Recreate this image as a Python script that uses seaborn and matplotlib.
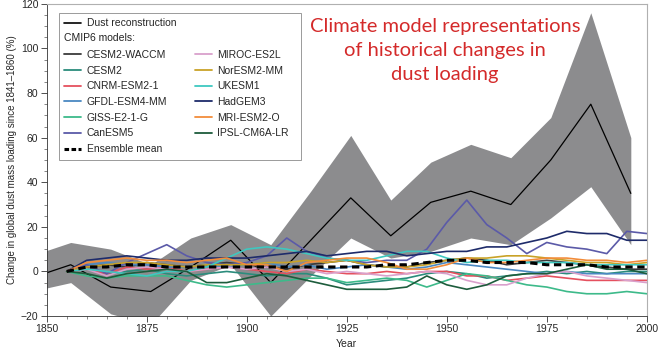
import matplotlib
matplotlib.use("Agg")
import matplotlib.pyplot as plt
import matplotlib.text as mtext
from matplotlib.legend_handler import HandlerBase
from matplotlib.lines import Line2D
from matplotlib.ticker import MultipleLocator
import pandas as pd
import seaborn as sns

# Dust reconstruction (decadal points) with its uncertainty band
recon_years = [1846, 1856, 1866, 1876, 1886, 1896, 1906, 1916, 1926, 1936, 1946, 1956, 1966, 1976, 1986, 1996]
recon_value = [-3, 3, -7, -9, 2, 14, -5, 14, 33, 16, 31, 36, 30, 50, 75, 35]
recon_upper = [7, 13, 10, 3, 15, 21, 12, 36, 61, 32, 49, 57, 51, 69, 116, 60]
recon_lower = [-9, -5, -19, -24, -4, 3, -20, -2, 15, 6, 9, 15, 12, 24, 38, 12]

# CMIP6 model curves, read every 5 years
model_years = [1855, 1860, 1865, 1870, 1875, 1880, 1885, 1890, 1895, 1900,
               1905, 1910, 1915, 1920, 1925, 1930, 1935, 1940, 1945, 1950,
               1955, 1960, 1965, 1970, 1975, 1980, 1985, 1990, 1995, 2000]

cesm2_waccm = [0, 2, 3, 2, 4, 3, 2, 3, 4, 3, 2, 1, 3, 4, 5, 3, 2, 2, 4, 5, 6, 5, 3, 4, 5, 4, 3, 2, 1, 1]
cesm2 = [0, 1, -1, 0, 1, -1, -2, -1, 0, -1, -2, -1, -1, -3, -6, -5, -4, -3, -1, 0, -1, -3, -2, -1, 0, -1, 0, -1, 0, 0]
cnrm_esm2_1 = [0, 1, -1, 2, 1, 2, 0, 1, 2, 1, 0, -1, 1, 0, -1, -1, 0, -1, 0, 0, -2, -2, -4, -3, -2, -3, -4, -4, -4, -4]
gfdl_esm4 = [0, 3, 4, 3, 3, 2, 2, 3, 2, 3, 4, 2, 3, 1, 2, 3, 2, 1, 2, 4, 3, 2, 1, 0, -1, 0, -1, -1, -1, -1]
giss_e2_1_g = [0, -2, -3, -2, -2, -2, -4, -6, -7, -6, -5, -4, -3, -3, -5, -4, -3, -4, -7, -4, -1, -2, -4, -6, -7, -9, -10, -10, -9, -10]
canesm5 = [0, 3, -1, 4, 8, 12, 7, 4, 3, 4, 7, 15, 9, 6, 5, 4, 5, 5, 10, 22, 32, 21, 15, 8, 13, 11, 10, 8, 18, 17]
miroc_es2l = [0, 1, -2, 1, 2, 1, 0, 1, 2, 1, 2, 0, 1, -1, 0, -1, -2, -1, 0, -1, -4, -6, -6, -3, -1, 0, -2, -3, -4, -5]
noresm2_mm = [0, 2, 3, 4, 4, 3, 2, 3, 3, 3, 4, 4, 5, 4, 5, 3, 2, 2, 3, 5, 6, 6, 7, 7, 6, 5, 4, 4, 3, 4]
ukesm1 = [0, 1, 0, -1, -2, 0, 0, 2, 6, 10, 11, 10, 8, 6, 5, 5, 7, 9, 9, 6, 4, 5, 5, 4, 4, 4, 3, 3, 3, 3]
hadgem3 = [0, 5, 6, 7, 6, 5, 5, 6, 6, 6, 7, 8, 9, 7, 8, 9, 9, 7, 8, 9, 9, 11, 11, 13, 15, 18, 17, 17, 14, 14]
mri_esm2_0 = [0, 4, 5, 6, 5, 5, 4, 5, 6, 3, 3, 0, 4, 5, 6, 6, 4, 1, 1, 3, 6, 4, 4, 5, 6, 6, 5, 5, 4, 5]
ipsl_cm6a_lr = [0, -1, -3, -1, 0, 1, 0, -5, -5, -3, -1, -2, -4, -6, -8, -8, -8, -7, -2, -6, -8, -6, -2, -1, -1, 1, 3, 1, 1, -1]
ensemble_mean = [0, 2, 2, 3, 3, 2, 2, 2, 2, 2, 2, 2, 2, 2, 2, 2, 3, 3, 4, 5, 5, 4, 4, 4, 3, 3, 3, 2, 2, 2]

model_names = ["CESM2-WACCM", "CESM2", "CNRM-ESM2-1", "GFDL-ESM4-MM", "GISS-E2-1-G", "CanESM5",
               "MIROC-ES2L", "NorESM2-MM", "UKESM1", "HadGEM3", "MRI-ESM2-O", "IPSL-CM6A-LR"]
model_values = [cesm2_waccm, cesm2, cnrm_esm2_1, gfdl_esm4, giss_e2_1_g, canesm5,
                miroc_es2l, noresm2_mm, ukesm1, hadgem3, mri_esm2_0, ipsl_cm6a_lr]
model_colors = ["#3a3a3a", "#2b8c7c", "#e5505e", "#4a88c2", "#3dba8a", "#5b5aa8",
                "#d9a0cc", "#c9a227", "#3ec8c0", "#1e2b6a", "#f28c3a", "#1d5c3c"]

rows = []
for name, vals in zip(model_names, model_values):
    for yr, v in zip(model_years, vals):
        rows.append({"year": yr, "value": v, "model": name})
models = pd.DataFrame(rows)
recon = pd.DataFrame({"year": recon_years, "value": recon_value})
mean_df = pd.DataFrame({"year": model_years, "value": ensemble_mean})

sns.set_style("ticks")
plt.rcParams["font.family"] = ["Liberation Sans", "DejaVu Sans"]

fig = plt.figure(figsize=(6.58, 3.5), dpi=100)
ax = fig.add_axes([0.071, 0.097, 0.912, 0.892])

ax.fill_between(recon_years, recon_lower, recon_upper, color="#8c8c8e", lw=0, zorder=1)
sns.lineplot(data=recon, x="year", y="value", color="black", lw=0.9, ax=ax, zorder=2)
sns.lineplot(data=models, x="year", y="value", hue="model", hue_order=model_names,
             palette=dict(zip(model_names, model_colors)), lw=1.2, legend=False, ax=ax, zorder=3)
sns.lineplot(data=mean_df, x="year", y="value", color="black", lw=2.2, ax=ax, zorder=4)
ax.lines[-1].set_dashes((2.4, 1.5))

ax.set_xlim(1850, 2000)
ax.set_ylim(-20, 120)
ax.xaxis.set_major_locator(MultipleLocator(25))
ax.xaxis.set_minor_locator(MultipleLocator(5))
ax.yaxis.set_major_locator(MultipleLocator(20))
ax.yaxis.set_minor_locator(MultipleLocator(5))
ax.tick_params(which="major", length=4, width=0.6, labelsize=7.5, pad=2, color="#333333")
ax.tick_params(which="minor", length=2, width=0.5, color="#555555")
for side in ["left", "bottom"]:
    ax.spines[side].set_linewidth(0.6)
    ax.spines[side].set_color("#333333")
for side in ["top", "right"]:
    ax.spines[side].set_linewidth(0.8)
    ax.spines[side].set_color("#b0b0b0")

ax.set_xlabel("Year", fontsize=7.5, labelpad=3)
ax.set_ylabel("Change in global dust mass loading since 1841\u20131860 (%)", fontsize=7, labelpad=3)

ax.text(0.664, 0.955, "Climate model representations\nof historical changes in\ndust loading",
        transform=ax.transAxes, ha="center", va="top", color="#d42a2a",
        fontsize=14.5, family=["Lato", "DejaVu Sans"], linespacing=1.5)


# legend: a heading row that is only text
class LegendHeading:
    def __init__(self, text):
        self.text = text


class HeadingHandler(HandlerBase):
    def create_artists(self, legend, orig_handle, xdescent, ydescent, width, height, fontsize, trans):
        t = mtext.Text(-xdescent, -ydescent + height / 2, orig_handle.text,
                       fontsize=fontsize, va="center", ha="left", color="#222222")
        t.set_transform(trans)
        return [t]


blank = Line2D([], [], linestyle="none")
h_recon = Line2D([], [], color="black", lw=1.2)
h_mean = Line2D([], [], color="black", lw=2.2, dashes=(1.5, 0.8))
h_models = [Line2D([], [], color=c, lw=1.3) for c in model_colors]

handles = ([h_recon, LegendHeading("CMIP6 models:")] + h_models[:6] + [h_mean]
           + [blank, blank] + h_models[6:] + [blank])
labels = (["Dust reconstruction", ""] + model_names[:6] + ["Ensemble mean"]
          + ["", ""] + model_names[6:] + [" " * 27])

leg = ax.legend(handles, labels, handler_map={LegendHeading: HeadingHandler()},
                ncol=2, loc="upper left", bbox_to_anchor=(0.02, 0.972), borderaxespad=0,
                fontsize=7.5, frameon=True, fancybox=False, framealpha=1,
                edgecolor="#9a9a9a", handlelength=1.6, handletextpad=0.55,
                columnspacing=1.8, labelspacing=0.55, borderpad=0.55)
leg.get_frame().set_linewidth(0.7)

fig.savefig("out.png", dpi=100)
